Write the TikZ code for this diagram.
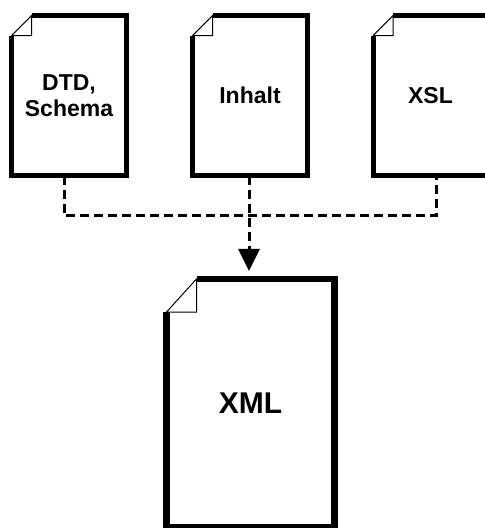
\documentclass[tikz,border=0pt]{standalone}
\usepackage{fontspec}
\setmainfont{Liberation Sans}
\usetikzlibrary{arrows.meta}

\begin{document}
\begin{tikzpicture}[
  x=0.5pt, y=-0.5pt,
  doc/.style={inner sep=0pt, outer sep=0pt, align=center, minimum width=57.5pt, minimum height=80pt,
    font=\fontsize{11.5}{13}\selectfont\bfseries},
  bigdoc/.style={doc, minimum width=84pt, minimum height=124pt, font=\fontsize{15}{18}\selectfont\bfseries},
  fold/.style={line width=0.5pt},
  link/.style={line width=1.5pt, dash pattern=on 4.5pt off 2.5pt}
]
\useasboundingbox (0,0) rectangle (485,528);

\node[doc] (dtd) at (69,95.6) {DTD,\\Schema};
\node[doc] (inhalt) at (250,95.6) {Inhalt};
\node[doc] (xsl) at (430.5,95.6) {XSL};
\node[bigdoc] (xml) at (250.5,403) {XML};

% sheets with a dog-ear in the top left corner
\foreach \d/\w/\fx/\fy in {dtd/2.5/20/20, inhalt/2.5/20/20, xsl/2.5/20/20, xml/3.4/30/33} {
  \draw[line width=\w pt, line join=miter]
    ([xshift=\fx*0.5pt]\d.north west) -- (\d.north east) -- (\d.south east)
    -- (\d.south west) -- ([yshift=-\fy*0.5pt]\d.north west);
  \draw[fold] ([yshift=-\fy*0.5pt]\d.north west) -- ([xshift=\fx*0.5pt]\d.north west)
    -- ++(0,\fy) -- ++(-\fx,0);
}

% dashed lines joining into the arrow
\coordinate (join) at (249,216);
\draw[link] ([xshift=-2.5pt]dtd.south) |- (join) -| ([xshift=2.75pt]xsl.south);
\draw[link, -{Triangle[width=10.5pt,length=11pt]}, shorten >=4pt]
  ([xshift=-0.5pt]inhalt.south) -- ([xshift=-0.5pt]inhalt.south |- xml.north);
\end{tikzpicture}
\end{document}
